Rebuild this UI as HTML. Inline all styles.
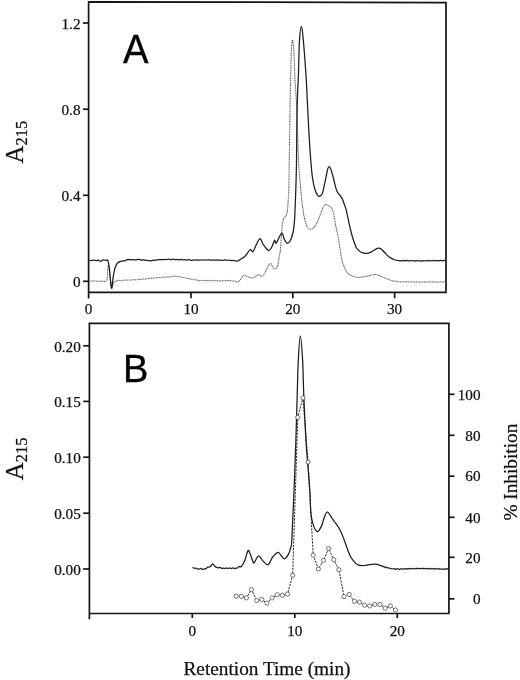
<!DOCTYPE html>
<html><head><meta charset="utf-8"><style>
html,body{margin:0;padding:0;background:#fff;width:520px;height:680px;overflow:hidden}
svg{display:block;filter:grayscale(1)}
</style></head><body>
<svg width="520" height="680" viewBox="0 0 520 680">
<g stroke="#151515" stroke-width="1.7" fill="none">
<path d="M88.6,298.5 L88.6,1.8 L446,2.6 L446,292.4 L88.6,292.4"/>
<path d="M83,23 H88.6"/>
<path d="M83,109.2 H88.6"/>
<path d="M83,195.3 H88.6"/>
<path d="M83,281.3 H88.6"/>
<path d="M191,292.4 V298.3"/>
<path d="M292.8,292.4 V298.3"/>
<path d="M394.6,292.4 V298.3"/>
<path d="M89.4,619.3 L89.4,323.4 L448.9,323.4 L448.9,613.5 L89.4,613.5"/>
<path d="M83.2,345.8 H89.4"/>
<path d="M83.2,401.4 H89.4"/>
<path d="M83.2,457.2 H89.4"/>
<path d="M83.2,513.2 H89.4"/>
<path d="M83.2,569 H89.4"/>
<path d="M448.9,394.3 H454.5"/>
<path d="M448.9,435.3 H454.5"/>
<path d="M448.9,476.2 H454.5"/>
<path d="M448.9,517.3 H454.5"/>
<path d="M448.9,557.3 H454.5"/>
<path d="M448.9,598.8 H454.5"/>
<path d="M192.3,613.5 V618"/>
<path d="M294.8,613.5 V618"/>
<path d="M397.3,613.5 V618"/>
</g>
<path d="M89.50,281.00 C89.81,281.03 90.72,281.24 91.33,281.21 C91.94,281.18 92.56,280.86 93.17,280.83 C93.78,280.79 94.41,280.92 95.00,281.00 C95.59,281.08 96.12,281.34 96.68,281.33 C97.24,281.32 97.81,280.93 98.37,280.94 C98.93,280.96 99.49,281.40 100.05,281.40 C100.61,281.41 101.17,280.98 101.73,280.98 C102.29,280.98 102.86,281.35 103.42,281.40 C103.98,281.45 104.49,281.65 105.10,281.30 C105.71,280.95 106.68,281.15 107.10,279.30 C107.52,277.45 107.37,272.50 107.60,270.20 C107.83,267.90 108.18,265.50 108.50,265.50 C108.82,265.50 109.00,266.45 109.50,270.20 C110.00,273.95 110.83,285.87 111.50,288.00 C112.17,290.13 112.88,284.07 113.50,283.00 C114.12,281.93 114.47,282.05 115.20,281.60 C115.93,281.15 117.12,280.48 117.90,280.30 C118.68,280.12 119.23,280.51 119.90,280.51 C120.57,280.51 121.23,280.33 121.90,280.30 C122.57,280.27 123.25,280.41 123.93,280.35 C124.60,280.29 125.28,279.98 125.95,279.95 C126.62,279.93 127.30,280.20 127.97,280.21 C128.65,280.22 129.33,280.03 130.00,280.00 C130.67,279.97 131.33,280.09 132.00,280.02 C132.67,279.94 133.33,279.58 134.00,279.56 C134.67,279.55 135.33,279.94 136.00,279.91 C136.67,279.88 137.33,279.46 138.00,279.38 C138.67,279.29 139.36,279.40 140.00,279.40 C140.64,279.40 141.21,279.48 141.82,279.39 C142.42,279.29 143.03,278.86 143.64,278.82 C144.24,278.79 144.85,279.23 145.45,279.17 C146.06,279.12 146.67,278.56 147.27,278.49 C147.88,278.41 148.48,278.80 149.09,278.73 C149.70,278.66 150.30,278.14 150.91,278.07 C151.52,278.00 152.12,278.37 152.73,278.32 C153.33,278.27 153.94,277.79 154.55,277.74 C155.15,277.69 155.76,278.05 156.36,278.02 C156.97,277.98 157.58,277.61 158.18,277.53 C158.79,277.44 159.39,277.51 160.00,277.50 C160.61,277.49 161.22,277.57 161.83,277.50 C162.44,277.42 163.06,277.06 163.67,277.04 C164.28,277.01 164.89,277.38 165.50,277.33 C166.11,277.29 166.72,276.82 167.33,276.77 C167.94,276.71 168.56,277.06 169.17,277.00 C169.78,276.94 170.39,276.45 171.00,276.40 C171.61,276.34 172.22,276.72 172.83,276.68 C173.44,276.63 174.06,276.21 174.67,276.13 C175.28,276.05 175.87,276.10 176.50,276.20 C177.13,276.30 177.78,276.61 178.43,276.71 C179.07,276.82 179.71,276.70 180.35,276.83 C181.00,276.96 181.64,277.39 182.28,277.50 C182.92,277.61 183.57,277.35 184.21,277.48 C184.85,277.62 185.49,278.17 186.14,278.31 C186.78,278.44 187.42,278.18 188.06,278.31 C188.71,278.45 189.35,278.98 189.99,279.10 C190.63,279.22 191.28,278.93 191.92,279.05 C192.56,279.17 193.20,279.69 193.85,279.81 C194.49,279.93 195.13,279.66 195.77,279.76 C196.42,279.85 197.07,280.25 197.70,280.40 C198.33,280.55 198.94,280.70 199.56,280.68 C200.18,280.66 200.80,280.30 201.42,280.30 C202.04,280.31 202.66,280.72 203.27,280.72 C203.89,280.73 204.51,280.30 205.13,280.32 C205.75,280.34 206.37,280.84 206.99,280.84 C207.61,280.85 208.23,280.36 208.85,280.35 C209.47,280.34 210.09,280.80 210.71,280.81 C211.33,280.81 211.95,280.36 212.57,280.37 C213.19,280.38 213.81,280.81 214.43,280.84 C215.04,280.87 215.66,280.51 216.28,280.54 C216.90,280.57 217.52,280.98 218.14,281.02 C218.76,281.07 219.36,280.82 220.00,280.80 C220.64,280.78 221.33,280.96 222.00,280.91 C222.67,280.86 223.33,280.53 224.00,280.51 C224.67,280.50 225.33,280.83 226.00,280.81 C226.67,280.79 227.33,280.43 228.00,280.40 C228.67,280.37 229.30,280.48 230.00,280.60 C230.70,280.72 231.45,281.08 232.18,281.13 C232.90,281.19 233.62,280.83 234.35,280.93 C235.07,281.02 235.80,281.57 236.52,281.70 C237.25,281.83 237.49,282.75 238.70,281.70 C239.91,280.65 242.37,276.27 243.80,275.40 C245.23,274.53 245.85,276.12 247.30,276.50 C248.75,276.88 250.58,277.98 252.50,277.70 C254.42,277.42 257.07,275.08 258.80,274.80 C260.53,274.52 261.07,277.83 262.90,276.00 C264.73,274.17 267.98,265.05 269.80,263.80 C271.62,262.55 272.55,268.02 273.80,268.50 C275.05,268.98 276.33,269.02 277.30,266.70 C278.27,264.38 279.08,257.38 279.60,254.60 C280.12,251.82 280.05,253.70 280.40,250.00 C280.75,246.30 281.33,236.95 281.70,232.40 C282.07,227.85 282.23,225.07 282.60,222.70 C282.97,220.33 283.47,219.23 283.90,218.20 C284.33,217.17 284.75,217.08 285.20,216.50 C285.65,215.92 286.18,216.17 286.60,214.70 C287.02,213.23 287.42,210.35 287.70,207.70 C287.98,205.05 288.12,201.75 288.30,198.80 C288.48,195.85 288.62,198.13 288.80,190.00 C288.98,181.87 289.22,161.67 289.40,150.00 C289.58,138.33 289.78,128.53 289.90,120.00 C290.02,111.47 289.97,106.25 290.10,98.80 C290.23,91.35 290.50,83.13 290.70,75.30 C290.90,67.47 291.00,57.68 291.30,51.80 C291.60,45.92 292.07,40.00 292.50,40.00 C292.93,40.00 293.52,45.92 293.90,51.80 C294.28,57.68 294.42,67.47 294.80,75.30 C295.18,83.13 295.80,91.35 296.20,98.80 C296.60,106.25 296.80,109.50 297.20,120.00 C297.60,130.50 298.00,150.13 298.60,161.80 C299.20,173.47 300.28,183.70 300.80,190.00 C301.32,196.30 301.30,196.07 301.70,199.60 C302.10,203.13 302.72,208.00 303.20,211.20 C303.68,214.40 303.97,216.25 304.60,218.80 C305.23,221.35 306.12,224.77 307.00,226.50 C307.88,228.23 308.85,228.95 309.90,229.20 C310.95,229.45 312.10,229.08 313.30,228.00 C314.50,226.92 315.90,225.03 317.10,222.70 C318.30,220.37 319.45,216.65 320.50,214.00 C321.55,211.35 322.55,208.40 323.40,206.80 C324.25,205.20 324.80,204.60 325.60,204.40 C326.40,204.20 327.28,205.12 328.20,205.60 C329.12,206.08 330.30,206.37 331.10,207.30 C331.90,208.23 332.45,209.43 333.00,211.20 C333.55,212.97 333.92,215.35 334.40,217.90 C334.88,220.45 335.22,222.95 335.90,226.50 C336.58,230.05 337.50,233.62 338.50,239.20 C339.50,244.78 340.98,255.45 341.90,260.00 C342.82,264.55 342.97,264.23 344.00,266.50 C345.03,268.77 345.87,271.80 348.10,273.60 C350.33,275.40 354.13,276.90 357.40,277.30 C360.67,277.70 364.62,276.45 367.70,276.00 C370.78,275.55 373.17,274.32 375.90,274.60 C378.63,274.88 381.35,276.67 384.10,277.70 C386.85,278.73 390.70,280.21 392.40,280.80 C394.10,281.39 393.67,281.18 394.30,281.23 C394.93,281.27 395.57,280.96 396.20,281.05 C396.83,281.15 397.47,281.65 398.10,281.78 C398.73,281.90 399.41,281.76 400.00,281.80 C400.59,281.84 401.11,282.07 401.67,282.04 C402.22,282.01 402.78,281.62 403.33,281.63 C403.89,281.64 404.44,282.13 405.00,282.12 C405.56,282.11 406.11,281.58 406.67,281.58 C407.22,281.57 407.78,282.07 408.33,282.09 C408.89,282.10 409.44,281.67 410.00,281.66 C410.56,281.65 411.11,282.04 411.67,282.05 C412.22,282.05 412.78,281.66 413.33,281.69 C413.89,281.71 414.44,282.19 415.00,282.19 C415.56,282.18 416.11,281.66 416.67,281.67 C417.22,281.68 417.78,282.20 418.33,282.25 C418.89,282.31 419.44,282.01 420.00,282.00 C420.56,281.99 421.13,282.20 421.70,282.17 C422.27,282.14 422.83,281.80 423.40,281.81 C423.97,281.82 424.53,282.23 425.10,282.24 C425.67,282.25 426.23,281.88 426.80,281.88 C427.37,281.87 427.93,282.21 428.50,282.20 C429.07,282.20 429.63,281.86 430.20,281.85 C430.77,281.84 431.33,282.14 431.90,282.14 C432.47,282.14 433.03,281.85 433.60,281.87 C434.17,281.89 434.73,282.26 435.30,282.26 C435.87,282.26 436.43,281.87 437.00,281.86 C437.57,281.84 438.13,282.17 438.70,282.16 C439.27,282.16 439.83,281.79 440.40,281.81 C440.97,281.83 441.53,282.27 442.10,282.28 C442.67,282.29 443.23,281.91 443.80,281.87 C444.37,281.82 445.22,281.98 445.50,282.00" fill="none" stroke="#5a5a5a" stroke-width="1.05" stroke-dasharray="1.1 0.55"/>
<path d="M89.50,260.20 C89.81,260.25 90.72,260.52 91.33,260.50 C91.94,260.48 92.56,260.09 93.17,260.08 C93.78,260.06 94.41,260.32 95.00,260.40 C95.59,260.48 96.13,260.63 96.70,260.58 C97.27,260.53 97.73,259.98 98.40,260.10 C99.07,260.22 99.92,261.35 100.70,261.30 C101.48,261.25 102.33,259.97 103.10,259.80 C103.87,259.63 104.57,260.21 105.30,260.26 C106.03,260.31 106.97,259.68 107.50,260.10 C108.03,260.52 108.17,261.12 108.50,262.80 C108.83,264.48 109.00,265.97 109.50,270.20 C110.00,274.43 110.88,287.08 111.50,288.20 C112.12,289.32 112.58,280.35 113.20,276.90 C113.82,273.45 114.42,269.90 115.20,267.50 C115.98,265.10 116.78,263.57 117.90,262.50 C119.02,261.43 120.78,261.38 121.90,261.10 C123.02,260.82 123.58,261.08 124.60,260.80 C125.62,260.52 127.10,259.57 128.00,259.40 C128.90,259.23 129.33,259.79 130.00,259.81 C130.67,259.82 131.33,259.50 132.00,259.50 C132.67,259.50 133.33,259.73 134.00,259.80 C134.67,259.87 135.33,259.98 136.00,259.93 C136.67,259.88 137.33,259.54 138.00,259.48 C138.67,259.43 139.35,259.49 140.00,259.60 C140.65,259.71 141.28,260.09 141.92,260.12 C142.56,260.15 143.20,259.73 143.84,259.79 C144.48,259.85 145.12,260.36 145.76,260.47 C146.40,260.57 147.04,260.35 147.68,260.41 C148.32,260.46 148.93,260.75 149.60,260.80 C150.27,260.85 150.99,260.83 151.68,260.72 C152.37,260.61 153.07,260.23 153.76,260.16 C154.45,260.09 155.15,260.38 155.84,260.29 C156.53,260.20 157.23,259.73 157.92,259.61 C158.61,259.50 159.32,259.58 160.00,259.60 C160.68,259.62 161.33,259.76 162.00,259.73 C162.67,259.69 163.33,259.41 164.00,259.40 C164.67,259.39 165.33,259.70 166.00,259.68 C166.67,259.65 167.33,259.30 168.00,259.25 C168.67,259.21 169.36,259.33 170.00,259.40 C170.64,259.47 171.21,259.71 171.82,259.68 C172.42,259.65 173.03,259.20 173.64,259.22 C174.24,259.24 174.85,259.78 175.45,259.81 C176.06,259.84 176.67,259.39 177.27,259.41 C177.88,259.42 178.48,259.89 179.09,259.90 C179.70,259.92 180.30,259.48 180.91,259.49 C181.52,259.49 182.12,259.90 182.73,259.91 C183.33,259.92 183.94,259.51 184.55,259.55 C185.15,259.59 185.76,260.13 186.36,260.15 C186.97,260.17 187.58,259.69 188.18,259.67 C188.79,259.64 189.39,259.90 190.00,260.00 C190.61,260.10 191.21,260.30 191.82,260.26 C192.42,260.23 193.03,259.82 193.64,259.81 C194.24,259.80 194.85,260.18 195.45,260.19 C196.06,260.20 196.67,259.85 197.27,259.86 C197.88,259.87 198.48,260.23 199.09,260.23 C199.70,260.24 200.30,259.89 200.91,259.87 C201.52,259.85 202.12,260.14 202.73,260.13 C203.33,260.13 203.94,259.84 204.55,259.84 C205.15,259.85 205.76,260.15 206.36,260.15 C206.97,260.15 207.58,259.84 208.18,259.82 C208.79,259.79 209.39,259.94 210.00,260.00 C210.61,260.06 211.21,260.17 211.82,260.16 C212.42,260.15 213.03,259.92 213.64,259.93 C214.24,259.95 214.85,260.22 215.45,260.23 C216.06,260.24 216.67,259.96 217.27,259.97 C217.88,259.99 218.48,260.31 219.09,260.32 C219.70,260.33 220.30,260.01 220.91,260.04 C221.52,260.06 222.12,260.48 222.73,260.47 C223.33,260.46 223.94,260.00 224.55,259.99 C225.15,259.97 225.76,260.37 226.36,260.39 C226.97,260.41 227.58,260.12 228.18,260.11 C228.79,260.09 229.38,260.21 230.00,260.30 C230.62,260.39 231.25,260.63 231.88,260.66 C232.50,260.68 233.12,260.41 233.75,260.46 C234.38,260.52 235.00,260.88 235.62,260.97 C236.25,261.06 236.52,261.38 237.50,261.00 C238.48,260.62 240.25,259.48 241.50,258.70 C242.75,257.92 243.55,257.78 245.00,256.30 C246.45,254.82 248.87,250.57 250.20,249.80 C251.53,249.03 252.03,252.43 253.00,251.70 C253.97,250.97 254.83,247.57 256.00,245.40 C257.17,243.23 258.75,238.80 260.00,238.70 C261.25,238.60 262.05,242.82 263.50,244.80 C264.95,246.78 267.28,250.32 268.70,250.60 C270.12,250.88 271.02,248.22 272.00,246.50 C272.98,244.78 273.87,240.88 274.60,240.30 C275.33,239.72 275.25,244.18 276.40,243.00 C277.55,241.82 280.17,233.80 281.50,233.20 C282.83,232.60 283.45,237.70 284.40,239.40 C285.35,241.10 286.18,243.25 287.20,243.40 C288.22,243.55 289.50,242.28 290.50,240.30 C291.50,238.32 292.53,234.73 293.20,231.50 C293.87,228.27 294.18,224.87 294.50,220.90 C294.82,216.93 294.88,212.85 295.10,207.70 C295.32,202.55 295.57,197.65 295.80,190.00 C296.03,182.35 296.32,173.47 296.50,161.80 C296.68,150.13 296.75,130.50 296.90,120.00 C297.05,109.50 297.15,106.25 297.40,98.80 C297.65,91.35 298.05,85.10 298.40,75.30 C298.75,65.50 298.98,48.17 299.50,40.00 C300.02,31.83 300.87,26.30 301.50,26.30 C302.13,26.30 302.55,31.83 303.30,40.00 C304.05,48.17 305.33,65.30 306.00,75.30 C306.67,85.30 306.87,91.47 307.30,100.00 C307.73,108.53 308.12,117.67 308.60,126.50 C309.08,135.33 309.65,145.25 310.20,153.00 C310.75,160.75 311.40,168.17 311.90,173.00 C312.40,177.83 312.72,179.33 313.20,182.00 C313.68,184.67 314.17,186.93 314.80,189.00 C315.43,191.07 316.23,193.18 317.00,194.40 C317.77,195.62 318.52,196.45 319.40,196.30 C320.28,196.15 321.50,195.25 322.30,193.50 C323.10,191.75 323.55,188.68 324.20,185.80 C324.85,182.92 325.63,178.93 326.20,176.20 C326.77,173.47 327.13,171.02 327.60,169.40 C328.07,167.78 328.43,166.50 329.00,166.50 C329.57,166.50 330.35,167.78 331.00,169.40 C331.65,171.02 332.27,173.80 332.90,176.20 C333.53,178.60 334.17,181.40 334.80,183.80 C335.43,186.20 336.05,188.92 336.70,190.60 C337.35,192.28 337.97,192.87 338.70,193.90 C339.43,194.93 340.42,195.78 341.10,196.80 C341.78,197.82 342.23,198.63 342.80,200.00 C343.37,201.37 343.97,203.47 344.50,205.00 C345.03,206.53 345.37,206.77 346.00,209.20 C346.63,211.63 347.53,216.13 348.30,219.60 C349.07,223.07 349.73,226.53 350.60,230.00 C351.47,233.47 352.45,237.32 353.50,240.40 C354.55,243.48 355.57,246.48 356.90,248.50 C358.23,250.52 359.77,251.70 361.50,252.50 C363.23,253.30 365.57,253.43 367.30,253.30 C369.03,253.17 370.55,252.35 371.90,251.70 C373.25,251.05 374.33,249.98 375.40,249.40 C376.47,248.82 377.33,248.27 378.30,248.20 C379.27,248.13 380.15,248.28 381.20,249.00 C382.25,249.72 383.27,251.15 384.60,252.50 C385.93,253.85 387.47,255.85 389.20,257.10 C390.93,258.35 393.20,259.42 395.00,260.00 C396.80,260.58 398.89,260.45 400.00,260.60 C401.11,260.75 401.11,260.93 401.67,260.89 C402.22,260.85 402.78,260.34 403.33,260.33 C403.89,260.33 404.44,260.83 405.00,260.85 C405.56,260.87 406.11,260.47 406.67,260.46 C407.22,260.45 407.78,260.80 408.33,260.82 C408.89,260.84 409.44,260.55 410.00,260.56 C410.56,260.57 411.11,260.90 411.67,260.90 C412.22,260.90 412.78,260.55 413.33,260.57 C413.89,260.59 414.44,261.01 415.00,261.02 C415.56,261.03 416.11,260.64 416.67,260.62 C417.22,260.60 417.78,260.88 418.33,260.91 C418.89,260.94 419.44,260.77 420.00,260.80 C420.56,260.83 421.13,261.12 421.70,261.08 C422.27,261.04 422.83,260.59 423.40,260.56 C423.97,260.53 424.53,260.91 425.10,260.91 C425.67,260.90 426.23,260.54 426.80,260.53 C427.37,260.52 427.93,260.86 428.50,260.86 C429.07,260.85 429.63,260.48 430.20,260.50 C430.77,260.53 431.33,261.02 431.90,261.00 C432.47,260.99 433.03,260.43 433.60,260.42 C434.17,260.41 434.73,260.91 435.30,260.93 C435.87,260.94 436.43,260.51 437.00,260.50 C437.57,260.49 438.13,260.84 438.70,260.84 C439.27,260.84 439.83,260.48 440.40,260.49 C440.97,260.50 441.53,260.90 442.10,260.89 C442.67,260.87 443.23,260.45 443.80,260.40 C444.37,260.35 445.22,260.57 445.50,260.60" fill="none" stroke="#1c1c1c" stroke-width="1.25"/>
<path d="M192.40,567.40 C192.67,567.54 193.49,568.15 194.03,568.26 C194.58,568.37 195.12,567.97 195.67,568.06 C196.21,568.15 196.74,568.63 197.30,568.80 C197.86,568.97 198.45,569.12 199.03,569.07 C199.60,569.01 200.18,568.41 200.75,568.45 C201.32,568.49 201.90,569.25 202.47,569.32 C203.05,569.40 203.61,569.01 204.20,568.90 C204.79,568.79 205.40,568.93 206.00,568.64 C206.60,568.36 207.20,567.46 207.80,567.17 C208.40,566.88 209.04,567.14 209.60,566.90 C210.16,566.66 210.63,566.27 211.15,565.75 C211.67,565.23 212.12,563.76 212.70,563.80 C213.27,563.84 213.97,565.38 214.60,565.98 C215.23,566.58 215.89,567.09 216.50,567.40 C217.11,567.71 217.67,567.83 218.25,567.84 C218.83,567.85 219.42,567.41 220.00,567.48 C220.58,567.55 221.17,568.16 221.75,568.28 C222.33,568.40 222.95,568.18 223.50,568.20 C224.05,568.22 224.53,568.42 225.04,568.39 C225.55,568.36 226.06,568.00 226.57,568.01 C227.09,568.02 227.60,568.47 228.11,568.46 C228.62,568.45 229.14,567.93 229.65,567.95 C230.16,567.97 230.68,568.60 231.19,568.57 C231.70,568.54 232.21,567.77 232.73,567.76 C233.24,567.75 233.75,568.43 234.26,568.50 C234.78,568.57 235.29,568.28 235.80,568.20 C236.31,568.12 236.82,568.31 237.33,568.03 C237.83,567.76 238.34,566.75 238.85,566.55 C239.36,566.35 239.87,566.96 240.38,566.84 C240.88,566.71 241.13,566.94 241.90,565.80 C242.67,564.66 243.97,562.55 245.00,560.00 C246.03,557.45 247.20,551.40 248.10,550.50 C249.00,549.60 249.63,552.88 250.40,554.60 C251.17,556.32 252.07,559.43 252.70,560.80 C253.33,562.17 253.23,563.63 254.20,562.80 C255.17,561.97 257.10,556.17 258.50,555.80 C259.90,555.43 261.02,559.12 262.60,560.60 C264.18,562.08 266.33,565.28 268.00,564.70 C269.67,564.12 270.95,559.15 272.60,557.10 C274.25,555.05 276.52,552.70 277.90,552.40 C279.28,552.10 279.82,554.23 280.90,555.30 C281.98,556.37 283.13,559.00 284.40,558.80 C285.67,558.60 287.42,556.05 288.50,554.10 C289.58,552.15 290.35,549.45 290.90,547.10 C291.45,544.75 291.33,548.05 291.80,540.00 C292.27,531.95 293.02,515.47 293.70,498.80 C294.38,482.13 295.32,457.20 295.90,440.00 C296.48,422.80 296.80,408.88 297.20,395.60 C297.60,382.32 297.78,370.25 298.30,360.30 C298.82,350.35 299.58,335.90 300.30,335.90 C301.02,335.90 302.02,350.35 302.60,360.30 C303.18,370.25 303.25,382.32 303.80,395.60 C304.35,408.88 305.27,428.93 305.90,440.00 C306.53,451.07 306.93,453.42 307.60,462.00 C308.27,470.58 309.28,482.42 309.90,491.50 C310.52,500.58 310.18,509.87 311.30,516.50 C312.42,523.13 314.95,529.62 316.60,531.30 C318.25,532.98 319.87,529.07 321.20,526.60 C322.53,524.13 323.55,518.93 324.60,516.50 C325.65,514.07 326.28,511.75 327.50,512.00 C328.72,512.25 330.77,516.42 331.90,518.00 C333.03,519.58 333.28,520.08 334.30,521.50 C335.32,522.92 336.88,524.75 338.00,526.50 C339.12,528.25 340.05,529.98 341.00,532.00 C341.95,534.02 342.78,536.20 343.70,538.60 C344.62,541.00 345.48,543.63 346.50,546.40 C347.52,549.17 348.52,552.63 349.80,555.20 C351.08,557.77 352.73,560.15 354.20,561.80 C355.67,563.45 356.93,564.48 358.60,565.10 C360.27,565.72 362.05,565.62 364.20,565.50 C366.35,565.38 369.32,564.58 371.50,564.40 C373.68,564.22 375.18,563.98 377.30,564.40 C379.42,564.82 382.82,566.38 384.20,566.90 C385.58,567.42 385.13,567.46 385.60,567.54 C386.07,567.62 386.53,567.27 387.00,567.38 C387.47,567.49 387.93,568.10 388.40,568.22 C388.87,568.34 389.33,568.03 389.80,568.11 C390.27,568.19 390.74,568.55 391.20,568.70 C391.66,568.85 392.12,569.03 392.58,569.00 C393.04,568.96 393.50,568.42 393.96,568.47 C394.42,568.52 394.88,569.29 395.34,569.30 C395.80,569.31 396.26,568.58 396.72,568.53 C397.18,568.48 397.64,568.88 398.10,569.00 C398.56,569.12 399.01,569.34 399.47,569.27 C399.93,569.20 400.38,568.57 400.84,568.57 C401.29,568.57 401.75,569.27 402.21,569.28 C402.66,569.30 403.12,568.67 403.58,568.65 C404.03,568.63 404.49,569.22 404.94,569.17 C405.40,569.12 405.86,568.36 406.31,568.35 C406.77,568.34 407.23,569.13 407.68,569.13 C408.14,569.12 408.59,568.34 409.05,568.32 C409.51,568.29 409.96,568.96 410.42,568.97 C410.88,568.98 411.33,568.40 411.79,568.40 C412.24,568.40 412.70,569.00 413.16,568.98 C413.61,568.96 414.07,568.29 414.52,568.28 C414.98,568.27 415.44,568.95 415.89,568.91 C416.35,568.87 416.81,568.06 417.26,568.03 C417.72,568.00 418.18,568.66 418.63,568.72 C419.09,568.79 419.55,568.40 420.00,568.40 C420.45,568.40 420.90,568.79 421.36,568.73 C421.81,568.67 422.26,568.01 422.71,568.04 C423.17,568.07 423.62,568.84 424.07,568.89 C424.52,568.94 424.98,568.34 425.43,568.33 C425.88,568.31 426.33,568.79 426.79,568.80 C427.24,568.82 427.69,568.36 428.14,568.41 C428.60,568.46 429.05,569.11 429.50,569.09 C429.95,569.07 430.40,568.33 430.86,568.31 C431.31,568.29 431.76,568.95 432.21,568.96 C432.67,568.97 433.12,568.33 433.57,568.38 C434.02,568.43 434.48,569.24 434.93,569.26 C435.38,569.28 435.83,568.52 436.29,568.50 C436.74,568.48 437.19,569.15 437.64,569.17 C438.10,569.19 438.55,568.60 439.00,568.61 C439.45,568.61 439.90,569.15 440.36,569.19 C440.81,569.22 441.26,568.78 441.71,568.83 C442.17,568.88 442.62,569.51 443.07,569.49 C443.52,569.47 443.98,568.74 444.43,568.73 C444.88,568.72 445.33,569.45 445.79,569.45 C446.24,569.45 446.69,568.77 447.14,568.73 C447.60,568.69 448.27,569.12 448.50,569.20" fill="none" stroke="#1c1c1c" stroke-width="1.25"/>
<polyline points="236.10,596.20 241.24,596.30 246.38,597.90 251.52,589.60 256.66,600.50 261.80,599.50 266.94,603.10 272.08,597.90 277.22,594.70 282.36,595.30 287.50,594.10 292.64,575.30 297.78,417.40 302.92,397.90 308.06,462.00 313.20,555.10 318.34,569.00 323.48,560.40 328.62,548.50 333.76,559.70 338.90,569.70 344.04,596.60 349.18,594.40 354.32,601.30 359.46,602.10 364.60,605.20 369.74,605.90 374.88,604.40 380.02,604.40 385.16,608.20 390.30,605.90 395.44,610.00" fill="none" stroke="#1e1e1e" stroke-width="0.95" stroke-dasharray="2.2 1.1"/>
<circle cx="236.10" cy="596.20" r="2.1" fill="#fff" stroke="#4a4a4a" stroke-width="0.75"/>
<circle cx="241.24" cy="596.30" r="2.1" fill="#fff" stroke="#4a4a4a" stroke-width="0.75"/>
<circle cx="246.38" cy="597.90" r="2.1" fill="#fff" stroke="#4a4a4a" stroke-width="0.75"/>
<circle cx="251.52" cy="589.60" r="2.1" fill="#fff" stroke="#4a4a4a" stroke-width="0.75"/>
<circle cx="256.66" cy="600.50" r="2.1" fill="#fff" stroke="#4a4a4a" stroke-width="0.75"/>
<circle cx="261.80" cy="599.50" r="2.1" fill="#fff" stroke="#4a4a4a" stroke-width="0.75"/>
<circle cx="266.94" cy="603.10" r="2.1" fill="#fff" stroke="#4a4a4a" stroke-width="0.75"/>
<circle cx="272.08" cy="597.90" r="2.1" fill="#fff" stroke="#4a4a4a" stroke-width="0.75"/>
<circle cx="277.22" cy="594.70" r="2.1" fill="#fff" stroke="#4a4a4a" stroke-width="0.75"/>
<circle cx="282.36" cy="595.30" r="2.1" fill="#fff" stroke="#4a4a4a" stroke-width="0.75"/>
<circle cx="287.50" cy="594.10" r="2.1" fill="#fff" stroke="#4a4a4a" stroke-width="0.75"/>
<circle cx="292.64" cy="575.30" r="2.1" fill="#fff" stroke="#4a4a4a" stroke-width="0.75"/>
<circle cx="297.78" cy="417.40" r="2.1" fill="#fff" stroke="#4a4a4a" stroke-width="0.75"/>
<circle cx="302.92" cy="397.90" r="2.1" fill="#fff" stroke="#4a4a4a" stroke-width="0.75"/>
<circle cx="308.06" cy="462.00" r="2.1" fill="#fff" stroke="#4a4a4a" stroke-width="0.75"/>
<circle cx="313.20" cy="555.10" r="2.1" fill="#fff" stroke="#4a4a4a" stroke-width="0.75"/>
<circle cx="318.34" cy="569.00" r="2.1" fill="#fff" stroke="#4a4a4a" stroke-width="0.75"/>
<circle cx="323.48" cy="560.40" r="2.1" fill="#fff" stroke="#4a4a4a" stroke-width="0.75"/>
<circle cx="328.62" cy="548.50" r="2.1" fill="#fff" stroke="#4a4a4a" stroke-width="0.75"/>
<circle cx="333.76" cy="559.70" r="2.1" fill="#fff" stroke="#4a4a4a" stroke-width="0.75"/>
<circle cx="338.90" cy="569.70" r="2.1" fill="#fff" stroke="#4a4a4a" stroke-width="0.75"/>
<circle cx="344.04" cy="596.60" r="2.1" fill="#fff" stroke="#4a4a4a" stroke-width="0.75"/>
<circle cx="349.18" cy="594.40" r="2.1" fill="#fff" stroke="#4a4a4a" stroke-width="0.75"/>
<circle cx="354.32" cy="601.30" r="2.1" fill="#fff" stroke="#4a4a4a" stroke-width="0.75"/>
<circle cx="359.46" cy="602.10" r="2.1" fill="#fff" stroke="#4a4a4a" stroke-width="0.75"/>
<circle cx="364.60" cy="605.20" r="2.1" fill="#fff" stroke="#4a4a4a" stroke-width="0.75"/>
<circle cx="369.74" cy="605.90" r="2.1" fill="#fff" stroke="#4a4a4a" stroke-width="0.75"/>
<circle cx="374.88" cy="604.40" r="2.1" fill="#fff" stroke="#4a4a4a" stroke-width="0.75"/>
<circle cx="380.02" cy="604.40" r="2.1" fill="#fff" stroke="#4a4a4a" stroke-width="0.75"/>
<circle cx="385.16" cy="608.20" r="2.1" fill="#fff" stroke="#4a4a4a" stroke-width="0.75"/>
<circle cx="390.30" cy="605.90" r="2.1" fill="#fff" stroke="#4a4a4a" stroke-width="0.75"/>
<circle cx="395.44" cy="610.00" r="2.1" fill="#fff" stroke="#4a4a4a" stroke-width="0.75"/>
<g font-family="Liberation Serif" fill="#111" stroke="#111" stroke-width="0.25" font-size="15.2" text-anchor="end">
<text x="80.5" y="29">1.2</text>
<text x="80.5" y="115.2">0.8</text>
<text x="80.5" y="201.3">0.4</text>
<text x="80.5" y="287.3">0</text>
<text x="80.8" y="351.8">0.20</text>
<text x="80.8" y="407.4">0.15</text>
<text x="80.8" y="463.2">0.10</text>
<text x="80.8" y="519.2">0.05</text>
<text x="80.8" y="575">0.00</text>
<text x="480.5" y="399.5">100</text>
<text x="480.5" y="440.5">80</text>
<text x="480.5" y="481.4">60</text>
<text x="480.5" y="522.5">40</text>
<text x="480.5" y="562.5">20</text>
<text x="480.5" y="604.0">0</text>
</g>
<g font-family="Liberation Serif" fill="#111" stroke="#111" stroke-width="0.25" font-size="15.2" text-anchor="middle">
<text x="88.6" y="313.8">0</text>
<text x="191" y="313.8">10</text>
<text x="292.8" y="313.8">20</text>
<text x="394.6" y="313.8">30</text>
<text x="192.3" y="635.8">0</text>
<text x="294.8" y="635.8">10</text>
<text x="397.3" y="635.8">20</text>
</g>
<text font-family="Liberation Serif" fill="#111" stroke="#111" stroke-width="0.25" font-size="19.3" x="183.5" y="674.8" textLength="167" lengthAdjust="spacingAndGlyphs">Retention Time (min)</text>
<text font-family="Liberation Serif" fill="#111" stroke="#111" stroke-width="0.25" font-size="19.3" transform="translate(517.3,520.6) rotate(-90)">% Inhibition</text>
<text font-family="Liberation Serif" fill="#111" stroke="#111" stroke-width="0.25" font-size="25" transform="translate(22.6,163.5) rotate(-90)">A<tspan font-size="16.5" dy="4.1">215</tspan></text>
<text font-family="Liberation Serif" fill="#111" stroke="#111" stroke-width="0.25" font-size="25" transform="translate(22.6,480.3) rotate(-90)">A<tspan font-size="16.5" dy="4.1">215</tspan></text>
<text font-family="Liberation Sans" font-size="40.3" fill="#000" stroke="#000" stroke-width="0.35" transform="translate(122.9,63) scale(0.95,1)" x="0" y="0">A</text>
<text font-family="Liberation Sans" font-size="38" fill="#000" stroke="#000" stroke-width="0.35" x="123" y="382.3">B</text>
</svg>
</body></html>
